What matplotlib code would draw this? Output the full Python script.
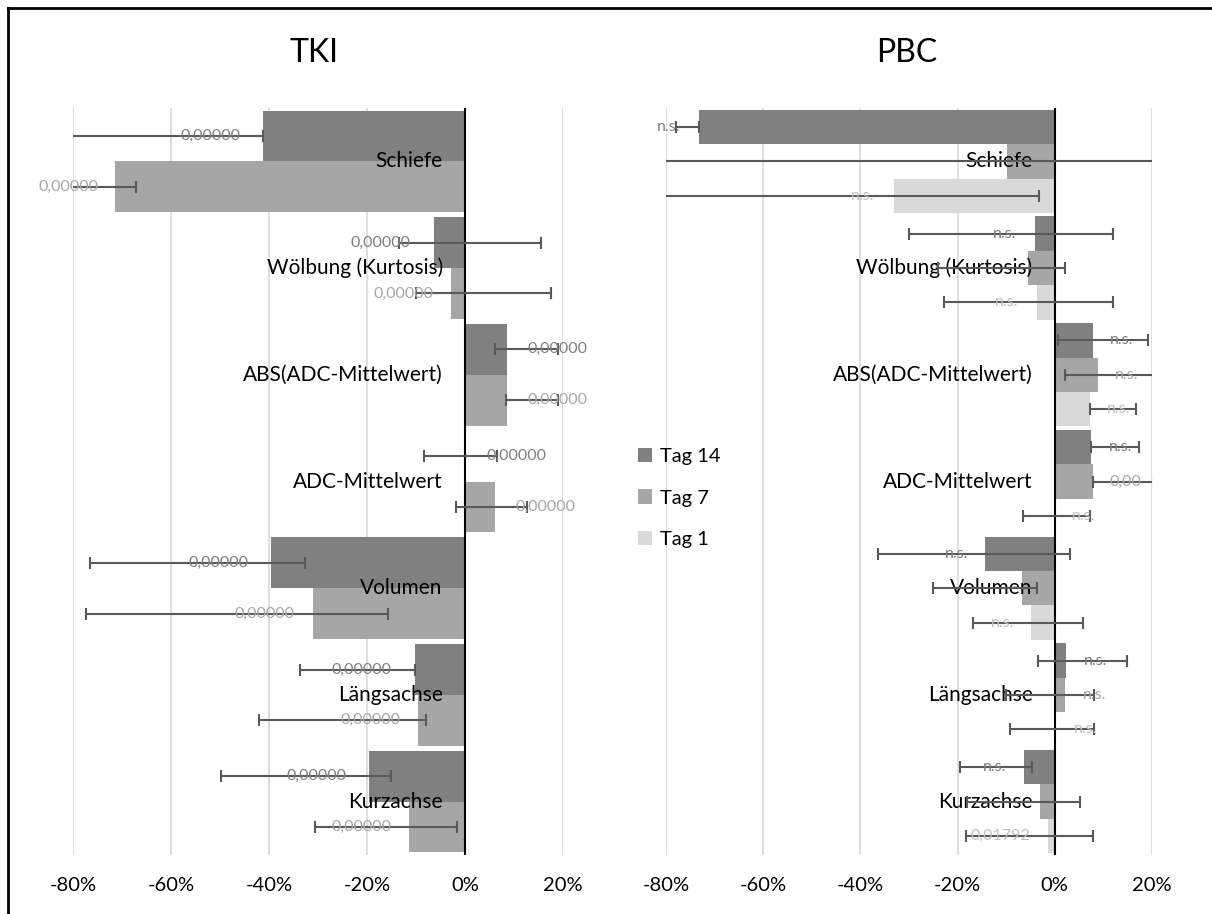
import numpy as np
import matplotlib
matplotlib.use('Agg')
import matplotlib.pyplot as plt
from matplotlib.patches import Patch
from matplotlib.lines import Line2D

plt.rcParams['font.family'] = ['Lato', 'DejaVu Sans']

cats = ["Schiefe", "Wölbung (Kurtosis)", "ABS(ADC-Mittelwert)", "ADC-Mittelwert",
        "Volumen", "Längsachse", "Kurzachse"]
series = ["Tag 14", "Tag 7", "Tag 1"]
colors = ["#808080", "#a6a6a6", "#d9d9d9"]
lbl_colors = ["#7f7f7f", "#a6a6a6", "#bfbfbf"]

# TKI, percent change
tki_t14 = [-41.3, -6.4, 8.5, 0.3, -39.6, -10.2, -19.6]
tki_t14_lo = [-95, -13.5, 6.1, -8.4, -76.6, -33.6, -49.7]
tki_t14_hi = [-41.3, 15.5, 19, 6.5, -32.7, -10.2, -15.1]
tki_t14_lbl = ["0,00000"] * 7
tki_t14_lbl_x = [-52, -17.2, 18.8, 10.6, -50.4, -21.2, -30.4]

tki_t7 = [-71.5, -2.9, 8.5, 6.1, -31.1, -9.6, -11.4]
tki_t7_lo = [-82, -10, 8.3, -1.8, -77.4, -42, -30.7]
tki_t7_hi = [-67.2, 17.6, 19, 12.6, -15.8, -8, -1.7]
tki_t7_lbl = ["0,00000"] * 7
tki_t7_lbl_x = [-81, -12.5, 18.8, 16.5, -40.9, -19.2, -21.2]

# PBC
pbc_t14 = [-73.2, -4.0, 7.8, 7.5, -14.3, 2.4, -6.3]
pbc_t14_lo = [-78, -30.1, 0.6, 7.5, -36.3, -3.4, -19.5]
pbc_t14_hi = [-73.2, 11.9, 19.2, 17.4, 3.2, 14.8, -4.6]
pbc_t14_lbl = ["n.s."] * 7
pbc_t14_lbl_x = [-79.4, -10.3, 13.8, 13.6, -20.3, 8.4, -12.4]

pbc_t7 = [-9.8, -5.6, 8.8, 7.8, -6.7, 2.2, -3.0]
pbc_t7_lo = [-90, -24, 2.0, 7.8, -25.0, -10, -18]
pbc_t7_hi = [30, 2.0, 25, 20.5, -3.6, 8.0, 5.1]
pbc_t7_lbl = [None, None, "n.s.", "0,00", None, "n.s.", None]
pbc_t7_lbl_x = [None, None, 14.8, 14.5, None, 8.2, None]

pbc_t1 = [-33.1, -3.6, 7.2, 0.3, -4.8, 0.3, -1.4]
pbc_t1_lo = [-90, -22.7, 7.2, -6.6, -16.8, -9.2, -18.2]
pbc_t1_hi = [-3.2, 11.9, 16.7, 7.2, 5.9, 8.0, 7.9]
pbc_t1_lbl = ["n.s.", "n.s.", "n.s.", "n.s.", "n.s.", "n.s.", "0,01792"]
pbc_t1_lbl_x = [-39.5, -9.9, 13.2, 6.0, -10.8, 6.4, -11.2]

W, H = 1212, 914
fig = plt.figure(figsize=(W / 100, H / 100), dpi=100)


def panel(rect, data):
    ax = fig.add_axes(rect)
    n = len(data)
    h = 1 / (n + 0.1)
    y = np.arange(len(cats))
    for k, (vals, lo, hi, lbl, lx) in enumerate(data):
        yy = y + (k - (n - 1) / 2) * h
        ax.barh(yy, vals, height=h, color=colors[k], zorder=2)
        lo = np.array(lo, float)
        hi = np.array(hi, float)
        ax.errorbar((lo + hi) / 2, yy, xerr=(hi - lo) / 2, fmt='none',
                    ecolor='#595959', elinewidth=1.5, capsize=4.5,
                    capthick=1.5, zorder=4)
        for i in range(len(cats)):
            if lbl[i] is None:
                continue
            ax.text(lx[i], yy[i], lbl[i], ha='center', va='center',
                    fontsize=11.5, color=lbl_colors[k], zorder=5)
    for i, c in enumerate(cats):
        ax.annotate(c, xy=(0, i), xytext=(-16, 0), textcoords='offset points',
                    ha='right', va='center', fontsize=15, color='black', zorder=3)
    ax.axvline(0, color='black', lw=1.5, zorder=3.5)
    ax.set_xlim(-80, 20)
    ax.set_ylim(len(cats) - 0.5, -0.5)
    ax.set_xticks([-80, -60, -40, -20, 0, 20])
    ax.set_xticklabels(["-80%", "-60%", "-40%", "-20%", "0%", "20%"])
    ax.tick_params(axis='x', length=0, pad=16, labelsize=14.5)
    ax.set_yticks([])
    ax.grid(axis='x', color='#d9d9d9', lw=1.2)
    ax.set_axisbelow(True)
    for s in ax.spines.values():
        s.set_visible(False)
    return ax


b = 1 - 855 / H
hgt = (855 - 108) / H
ax1 = panel([73 / W, b, 490 / W, hgt],
            [(tki_t14, tki_t14_lo, tki_t14_hi, tki_t14_lbl, tki_t14_lbl_x),
             (tki_t7, tki_t7_lo, tki_t7_hi, tki_t7_lbl, tki_t7_lbl_x)])
ax2 = panel([666 / W, b, 486 / W, hgt],
            [(pbc_t14, pbc_t14_lo, pbc_t14_hi, pbc_t14_lbl, pbc_t14_lbl_x),
             (pbc_t7, pbc_t7_lo, pbc_t7_hi, pbc_t7_lbl, pbc_t7_lbl_x),
             (pbc_t1, pbc_t1_lo, pbc_t1_hi, pbc_t1_lbl, pbc_t1_lbl_x)])

fig.text(314 / W, 1 - 53 / H, "TKI", ha='center', va='center', fontsize=23)
fig.text(907 / W, 1 - 53 / H, "PBC", ha='center', va='center', fontsize=23)

handles = [Patch(facecolor=c, edgecolor='none') for c in colors]
fig.legend(handles, series, loc='center left', bbox_to_anchor=(638 / W, 1 - 498 / H),
           frameon=False, fontsize=14.5, handlelength=0.7, handleheight=0.7,
           handletextpad=0.4, labelspacing=1.2, borderpad=0, borderaxespad=0)

# chart frame (only left and top edges fall inside the picture)
fig.add_artist(Line2D([7.5 / W, 7.5 / W], [0, 1 - 7.5 / H], color='black', lw=2))
fig.add_artist(Line2D([7.5 / W, 1], [1 - 7.5 / H, 1 - 7.5 / H], color='black', lw=2))

fig.savefig('out.png', dpi=100)
